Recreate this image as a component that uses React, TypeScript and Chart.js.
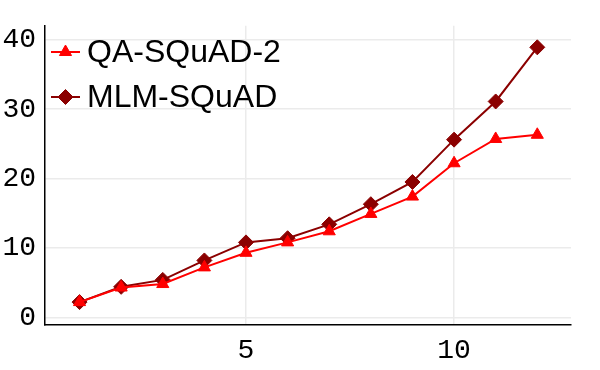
import React, { useEffect, useRef } from "react";
import { Chart, registerables } from "chart.js";

Chart.register(...registerables);

const xValues = [1, 2, 3, 4, 5, 6, 7, 8, 9, 10, 11, 12];
const qaSquad2 = [2.2, 4.3, 4.8, 7.2, 9.3, 10.8, 12.4, 14.9, 17.4, 22.2, 25.7, 26.3];
const mlmSquad = [2.2, 4.4, 5.4, 8.2, 10.8, 11.4, 13.4, 16.3, 19.5, 25.6, 31.1, 38.9];
const xTicks = [5, 10];
const yTicks = [0, 10, 20, 30, 40];
const seriesNames = ["QA-SQuAD-2", "MLM-SQuAD"];
const seriesColors = ["#ff0000", "#8b0000"];
const seriesMarkers = ["triangle", "rectRot"];
const markerRadii = [7, 7.5];

function drawMarker(ctx: CanvasRenderingContext2D, style: string, r: number, x: number, y: number) {
  ctx.beginPath();
  if (style === "triangle") {
    ctx.moveTo(x, y - r);
    ctx.lineTo(x + r * Math.sin(Math.PI / 3), y + r * 0.5);
    ctx.lineTo(x - r * Math.sin(Math.PI / 3), y + r * 0.5);
  } else {
    ctx.moveTo(x, y - r);
    ctx.lineTo(x + r, y);
    ctx.lineTo(x, y + r);
    ctx.lineTo(x - r, y);
  }
  ctx.closePath();
  ctx.fill();
  ctx.stroke();
}

const legendPlugin = {
  id: "insideLegend",
  afterDraw(chart: any) {
    const ctx = chart.ctx;
    ctx.save();
    seriesNames.forEach((name, i) => {
      const y = 52 + i * 45;
      ctx.strokeStyle = seriesColors[i];
      ctx.lineWidth = 2;
      ctx.beginPath();
      ctx.moveTo(51, y);
      ctx.lineTo(80, y);
      ctx.stroke();
      ctx.fillStyle = seriesColors[i];
      ctx.lineWidth = 1;
      drawMarker(ctx, seriesMarkers[i], markerRadii[i], 65.5, y);
      ctx.fillStyle = "#000";
      ctx.font = "32px 'Liberation Sans', Arial, sans-serif";
      ctx.textBaseline = "middle";
      ctx.textAlign = "left";
      ctx.fillText(name, 87, y + 1);
    });
    ctx.restore();
  },
};

export default function App() {
  const ref = useRef<HTMLCanvasElement>(null);
  useEffect(() => {
    if (!ref.current) return;
    const mono = "'Liberation Mono', 'DejaVu Sans Mono', monospace";
    const chart = new Chart(ref.current, {
      type: "line",
      data: {
        datasets: [0, 1].map((i) => ({
          label: seriesNames[i],
          data: xValues.map((x, j) => ({ x, y: (i === 0 ? qaSquad2 : mlmSquad)[j] })),
          borderColor: seriesColors[i],
          backgroundColor: seriesColors[i],
          borderWidth: 2,
          pointStyle: seriesMarkers[i] as any,
          pointRadius: markerRadii[i],
          pointBorderWidth: 1,
        })),
      },
      options: {
        animation: false,
        responsive: true,
        maintainAspectRatio: false,
        layout: { padding: { top: 24, right: 29, left: 0, bottom: 0 } },
        plugins: { legend: { display: false }, tooltip: { enabled: false } },
        scales: {
          x: {
            type: "linear",
            min: 0.17,
            max: 12.81,
            afterBuildTicks: (s: any) => {
              s.ticks = xTicks.map((v) => ({ value: v }));
            },
            afterFit: (s: any) => {
              s.height = 45;
            },
            grid: { color: "#ebebeb", lineWidth: 1.5, drawTicks: false },
            border: { color: "#000", width: 1.5 },
            ticks: { color: "#000", font: { family: mono, size: 28 }, padding: 9, maxRotation: 0 },
          },
          y: {
            type: "linear",
            min: -1.1,
            max: 42,
            afterBuildTicks: (s: any) => {
              s.ticks = yTicks.map((v) => ({ value: v }));
            },
            afterFit: (s: any) => {
              s.width = 45;
            },
            grid: { color: "#ebebeb", lineWidth: 1.5, drawTicks: false },
            border: { color: "#000", width: 1.5 },
            ticks: { color: "#000", font: { family: mono, size: 28 }, padding: 9 },
          },
        },
      },
      plugins: [legendPlugin],
    });
    return () => chart.destroy();
  }, []);
  return (
    <div style={{ position: "fixed", left: 0, top: 0, width: 600, height: 370, background: "#fff" }}>
      <canvas ref={ref} />
    </div>
  );
}
